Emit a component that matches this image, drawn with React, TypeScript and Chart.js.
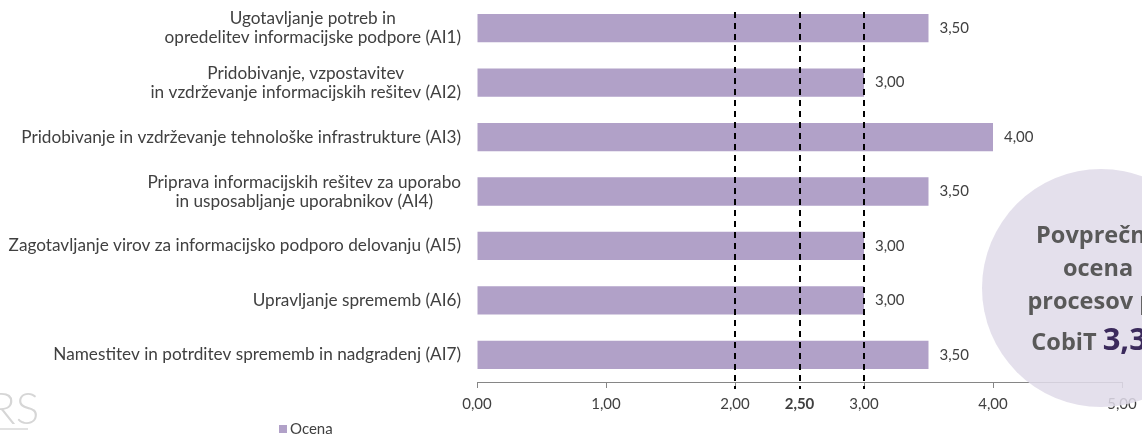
import { useEffect, useRef } from 'react';
import { Chart, registerables } from 'chart.js';

Chart.register(...registerables);

const categories: string[][] = [
  ['Ugotavljanje potreb in', 'opredelitev informacijske podpore (AI1)'],
  ['Pridobivanje, vzpostavitev', 'in vzdrževanje informacijskih rešitev (AI2)'],
  ['Pridobivanje in vzdrževanje tehnološke infrastrukture (AI3)'],
  ['Priprava informacijskih rešitev za uporabo', 'in usposabljanje uporabnikov (AI4)'],
  ['Zagotavljanje virov za informacijsko podporo delovanju (AI5)'],
  ['Upravljanje sprememb (AI6)'],
  ['Namestitev in potrditev sprememb in nadgradenj (AI7)'],
];
const seriesName = 'Ocena';
const ocena = [3.5, 3.0, 4.0, 3.5, 3.0, 3.0, 3.5];
const xTickValues = [0, 1, 2, 2.5, 3, 4, 5];
const referenceLines = [2, 2.5, 3];
const boldTick = 2.5;
const circleLines = ['Povprečna', 'ocena', 'procesov po'];
const circlePrefix = 'CobiT ';
const circleValue = '3,36';
const watermark = 'RS';

const BAR = '#b1a1c8';
const TEXT = '#404040';
const FONT = 'Lato';

const fmt = (v: number) => v.toFixed(2).replace('.', ',');

const customPlugin = {
  id: 'custom',
  afterDatasetsDraw(chart: any) {
    const { ctx, chartArea, scales } = chart;
    const x = scales.x;
    ctx.save();
    ctx.strokeStyle = '#000';
    ctx.lineWidth = 2;
    ctx.setLineDash([6, 5]);
    referenceLines.forEach((v) => {
      const px = Math.round(x.getPixelForValue(v));
      ctx.beginPath();
      ctx.moveTo(px, chartArea.top + 11);
      ctx.lineTo(px, chartArea.bottom + 7);
      ctx.stroke();
    });
    ctx.restore();
    const meta = chart.getDatasetMeta(0);
    ctx.save();
    ctx.fillStyle = TEXT;
    ctx.font = `15px ${FONT}`;
    ctx.textBaseline = 'middle';
    ctx.textAlign = 'left';
    meta.data.forEach((el: any, i: number) => {
      ctx.fillText(fmt(ocena[i]), el.x + 11, el.y);
    });
    ctx.restore();
  },
  afterDraw(chart: any) {
    const { ctx, chartArea, scales } = chart;
    const y = scales.y;
    ctx.save();
    ctx.fillStyle = TEXT;
    ctx.font = `17.2px ${FONT}`;
    ctx.textBaseline = 'middle';
    ctx.textAlign = 'center';
    const right = chartArea.left - 16;
    const lh = 19;
    categories.forEach((lines, i) => {
      const cy = y.getPixelForValue(i);
      const w = Math.max(...lines.map((l) => ctx.measureText(l).width));
      const cx = right - w / 2;
      lines.forEach((l, j) => {
        ctx.fillText(l, cx, cy + (j - (lines.length - 1) / 2) * lh);
      });
    });
    ctx.restore();

    // legend
    ctx.save();
    ctx.fillStyle = BAR;
    ctx.fillRect(279, 425, 8, 8);
    ctx.fillStyle = TEXT;
    ctx.font = `15px ${FONT}`;
    ctx.textBaseline = 'middle';
    ctx.textAlign = 'left';
    ctx.fillText(seriesName, 290, 429);
    ctx.restore();

    // watermark
    ctx.save();
    ctx.fillStyle = '#d6d6d6';
    ctx.font = `300 44px ${FONT}`;
    ctx.textBaseline = 'alphabetic';
    ctx.textAlign = 'left';
    ctx.fillText(watermark, -11, 424);
    ctx.fillStyle = '#e2e2e2';
    ctx.fillRect(0, 428, 28, 2);
    ctx.restore();

    // circle
    ctx.save();
    ctx.fillStyle = 'rgba(223,219,233,0.86)';
    ctx.beginPath();
    ctx.arc(1101, 288, 119, 0, Math.PI * 2);
    ctx.fill();
    ctx.fillStyle = '#595959';
    ctx.textAlign = 'center';
    ctx.textBaseline = 'alphabetic';
    ctx.font = `bold 23.5px "Open Sans"`;
    const ys = [243, 276, 309];
    circleLines.forEach((l, i) => ctx.fillText(l, 1098, ys[i]));
    const wp = ctx.measureText(circlePrefix).width;
    ctx.font = `bold 31px "Open Sans"`;
    const wv = ctx.measureText(circleValue).width;
    const sx = 1098 - (wp + wv) / 2;
    ctx.textAlign = 'left';
    ctx.font = `bold 23.5px "Open Sans"`;
    ctx.fillText(circlePrefix, sx, 350);
    ctx.fillStyle = '#3b2a5c';
    ctx.font = `bold 31px "Open Sans"`;
    ctx.fillText(circleValue, sx + wp, 350);
    ctx.restore();
  },
};

export default function App() {
  const ref = useRef<HTMLCanvasElement>(null);
  useEffect(() => {
    if (!ref.current) return;
    const chart = new Chart(ref.current, {
      type: 'bar',
      data: {
        labels: categories.map((c) => c.join(' ')),
        datasets: [
          {
            label: seriesName,
            data: ocena,
            backgroundColor: BAR,
            borderWidth: 0,
            barPercentage: 0.52,
            categoryPercentage: 1,
          },
        ],
      },
      options: {
        indexAxis: 'y',
        animation: false,
        responsive: false,
        maintainAspectRatio: false,
        layout: { padding: { top: 1, bottom: 15, left: 0, right: 20 } },
        plugins: {
          legend: { display: false },
          tooltip: { enabled: false },
        },
        scales: {
          x: {
            type: 'linear',
            min: 0,
            max: 5,
            afterBuildTicks: (scale: any) => {
              scale.ticks = xTickValues.map((v) => ({ value: v }));
            },
            afterFit: (scale: any) => {
              scale.paddingLeft = 0;
              scale.paddingRight = 0;
            },
            border: { display: true, color: '#868686', width: 1 },
            grid: {
              drawOnChartArea: false,
              drawTicks: true,
              tickLength: 6,
              tickColor: (c: any) => (c.tick && c.tick.value === boldTick ? 'rgba(0,0,0,0)' : '#868686'),
            },
            ticks: {
              color: TEXT,
              padding: 7,
              maxRotation: 0,
              autoSkip: false,
              font: (c: any) => ({
                family: FONT,
                size: 15,
                weight: c.tick && c.tick.value === boldTick ? 'bold' : 'normal',
              }),
              callback: (v: any) => fmt(Number(v)),
            },
          },
          y: {
            type: 'category',
            grid: { display: false, drawTicks: false },
            border: { display: false },
            ticks: { display: false },
            afterFit: (scale: any) => {
              scale.width = 477;
            },
          },
        },
      },
      plugins: [customPlugin],
    });
    return () => chart.destroy();
  }, []);
  return (
    <div style={{ position: 'absolute', left: 0, top: 0, width: 1142, height: 435, background: '#fff' }}>
      <canvas ref={ref} width={1142} height={435} />
    </div>
  );
}
